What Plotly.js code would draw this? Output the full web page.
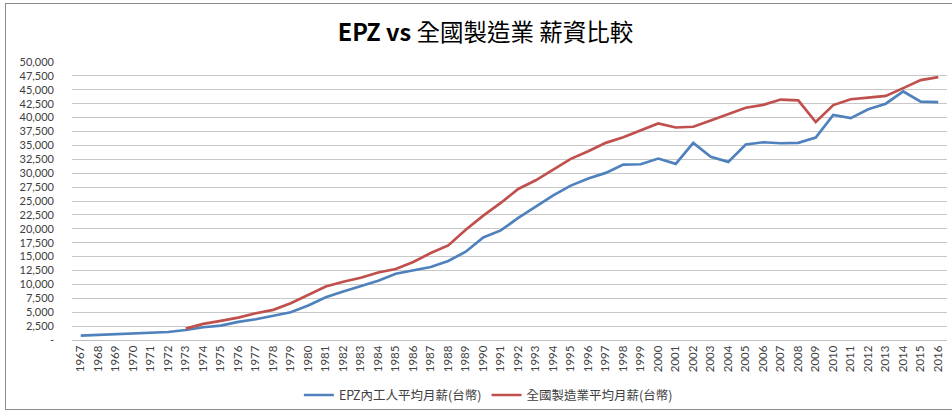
<!DOCTYPE html>
<html>
<head>
<meta charset="utf-8">
<script src="https://cdn.plot.ly/plotly-3.0.1.min.js"></script>
<style>
  html, body { margin: 0; padding: 0; background: #fff; }
  #wrap { position: relative; width: 952px; height: 414px; overflow: hidden; }
  #chart { width: 952px; height: 414px; }
  #frame { position: absolute; left: 5px; top: 3px; width: 960px; height: 407px;
           border: 1px solid #8c8c8c; pointer-events: none; box-sizing: border-box; }
</style>
</head>
<body>
<div id="wrap">
  <div id="chart"></div>
  <div id="frame"></div>
</div>
<script>
const years = ["1967","1968","1969","1970","1971","1972","1973","1974","1975","1976",
  "1977","1978","1979","1980","1981","1982","1983","1984","1985","1986",
  "1987","1988","1989","1990","1991","1992","1993","1994","1995","1996",
  "1997","1998","1999","2000","2001","2002","2003","2004","2005","2006",
  "2007","2008","2009","2010","2011","2012","2013","2014","2015","2016"];

const epzWage = [780, 900, 1020, 1140, 1260, 1440, 1800, 2290, 2590, 3250,
  3730, 4330, 5000, 6200, 7700, 8720, 9750, 10650, 11910, 12450,
  13120, 14200, 15880, 18450, 19710, 21950, 24040, 26020, 27770, 29030,
  30060, 31550, 31610, 32630, 31680, 35460, 32940, 32040, 35160, 35570,
  35390, 35460, 36400, 40470, 39900, 41500, 42500, 44700, 42860, 42800];

const mfgWage = [null, null, null, null, null, null, 2040, 2890, 3430, 4030,
  4820, 5420, 6620, 8200, 9630, 10470, 11190, 12150, 12760, 14020,
  15640, 17010, 19840, 22360, 24650, 27170, 28720, 30650, 32580, 33950,
  35460, 36470, 37730, 38940, 38220, 38350, 39480, 40560, 41770, 42300,
  43250, 43100, 39200, 42250, 43300, 43600, 43900, 45300, 46750, 47270];

const seriesNames = ["EPZ內工人平均月薪(台幣)", "全國製造業平均月薪(台幣)"];
const chartTitle = "<b>EPZ vs</b> 全國製造業 薪資比較";

const yTickVals = [0, 2500, 5000, 7500, 10000, 12500, 15000, 17500, 20000, 22500, 25000,
  27500, 30000, 32500, 35000, 37500, 40000, 42500, 45000, 47500, 50000];
const yTickText = ["-", "2,500", "5,000", "7,500", "10,000", "12,500", "15,000", "17,500",
  "20,000", "22,500", "25,000", "27,500", "30,000", "32,500", "35,000", "37,500",
  "40,000", "42,500", "45,000", "47,500", "50,000"];

const traces = [
  { x: years, y: epzWage, name: seriesNames[0], type: "scatter", mode: "lines",
    line: { color: "#4F81BD", width: 2.7 } },
  { x: years, y: mfgWage, name: seriesNames[1], type: "scatter", mode: "lines",
    line: { color: "#C0504D", width: 2.7 }, connectgaps: false }
];

const layout = {
  width: 952, height: 414,
  margin: { l: 72, r: 5, t: 62, b: 74 },
  paper_bgcolor: "#ffffff", plot_bgcolor: "#ffffff",
  font: { family: "Lato, 'Noto Sans CJK TC', sans-serif", size: 11, color: "#404040" },
  title: { text: chartTitle, x: 0.51, xref: "container", xanchor: "center",
           y: 0.922, yref: "container", yanchor: "middle",
           font: { family: "'Noto Sans CJK TC', sans-serif", size: 23.5, color: "#000000" } },
  xaxis: { type: "category", range: [-0.5, 49.5], tickangle: -90, ticks: "",
           showgrid: false, showline: true, linecolor: "#bfbfbf", linewidth: 1,
           tickfont: { family: "Lato, sans-serif", size: 11.5, color: "#404040" },
           zeroline: false, fixedrange: true },
  yaxis: { range: [0, 50000], tickvals: yTickVals, ticktext: yTickText, ticks: "",
           showgrid: true, gridcolor: "#c8c8c8", gridwidth: 1, zeroline: false,
           showline: false, ticklabelstandoff: 17,
           tickfont: { family: "Lato, sans-serif", size: 11, color: "#404040" },
           fixedrange: true },
  showlegend: true,
  legend: { orientation: "h", xref: "container", yref: "container",
            x: 0.513, xanchor: "center", y: 0.045, yanchor: "middle",
            font: { family: "'Noto Sans CJK TC', sans-serif", size: 12.5, color: "#404040" },
            itemwidth: 30, bgcolor: "rgba(0,0,0,0)" }
};

Plotly.newPlot("chart", traces, layout, { displayModeBar: false, staticPlot: true });
</script>
</body>
</html>
